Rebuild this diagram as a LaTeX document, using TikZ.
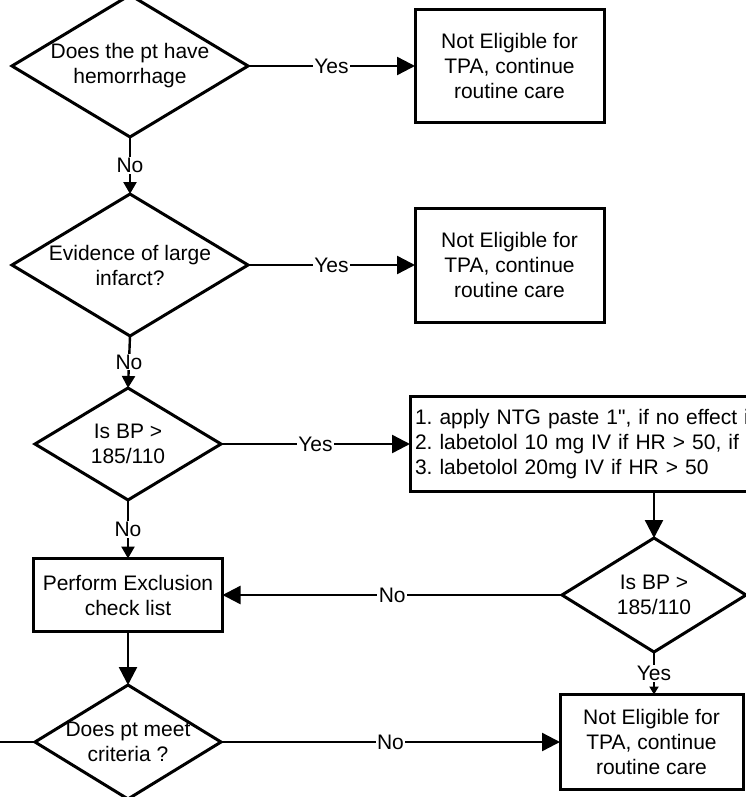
\documentclass[tikz,border=0pt]{standalone}
\usepackage{fontspec}
\setmainfont{Liberation Sans}
\usetikzlibrary{shapes.geometric,arrows.meta}
\newcommand\flowfont{\fontsize{21}{25}\selectfont}
\frenchspacing
\begin{document}
\begin{tikzpicture}[x=1pt,y=-1pt,
  shapebox/.style={draw, line width=3pt, rectangle, outer sep=0pt, inner sep=2pt, align=center, font=\flowfont},
  dec/.style={draw, line width=3pt, diamond, outer sep=0pt, inner sep=0pt},
  dtext/.style={font=\flowfont, align=center},
  conn/.style={line width=2.4pt},
  bigarr/.style={conn, -{Triangle[length=18pt,width=18pt]}},
  smallarr/.style={conn, -{Triangle[length=12pt,width=13pt]}},
  tinyarr/.style={conn, -{Triangle[length=8pt,width=9pt]}},
  lbl/.style={fill=white, inner xsep=1.5pt, inner ysep=1pt, font=\flowfont},
]
\useasboundingbox (0,0) rectangle (746,797);
\clip (0,0) rectangle (746,797);
\fill[white] (0,0) rectangle (746,797);

% decisions
\node[dec, minimum width=236pt, minimum height=142pt,
      label={[dtext]center:Does the pt have\\hemorrhage}] (d1) at (130,66) {};
\node[dec, minimum width=236pt, minimum height=142pt,
      label={[dtext]center:Evidence of large\\infarct?}] (d2) at (130,265) {};
\node[dec, minimum width=186pt, minimum height=112pt,
      label={[dtext]center:Is BP >\\185/110}] (d3) at (128,444) {};
\node[dec, minimum width=184pt, minimum height=114pt,
      label={[dtext]center:Is BP >\\185/110}] (d4) at (654,595) {};
\node[dec, minimum width=186pt, minimum height=114pt,
      label={[dtext]center:Does pt meet\\criteria ?}] (d5) at (128,742) {};

% boxes
\node[shapebox, minimum width=189pt, minimum height=113pt] (b1) at (509.5,66)
  {Not Eligible for\\TPA, continue\\routine care};
\node[shapebox, minimum width=189pt, minimum height=114pt] (b2) at (509.5,265)
  {Not Eligible for\\TPA, continue\\routine care};
\node[shapebox, anchor=west, text width=470pt, align=left, inner xsep=5pt,
      minimum height=95pt] (b3) at (410,444)
  {1. apply NTG paste 1\textquotedbl, if no effect in\\2. labetolol 10 mg IV if HR > 50, if no\\3. labetolol 20mg IV if HR > 50};
\node[shapebox, minimum width=189pt, minimum height=73pt] (pe) at (128,595)
  {Perform Exclusion\\check list};
\node[shapebox, minimum width=183pt, minimum height=95pt] (b4) at (651.5,742)
  {Not Eligible for\\TPA, continue\\routine care};

\coordinate (lout) at (-20,742);

% connectors
\draw[bigarr] (d1.east) -- node[lbl]{Yes} (b1.west);
\draw[smallarr] (d1.south) -- node[lbl]{No} (d2.north);
\draw[bigarr] (d2.east) -- node[lbl]{Yes} (b2.west);
\draw[smallarr] (d2.south) -- node[lbl]{No} (d3.north);
\draw[bigarr] (d3.east) -- node[lbl]{Yes} (b3.west);
\draw[smallarr] (d3.south) -- node[lbl]{No} (pe.north);
\draw[bigarr] (d4.north |- b3.south) -- (d4.north);
\draw[bigarr] (d4.west) -- node[lbl]{No} (pe.east);
\draw[tinyarr] (d4.south) -- node[lbl]{Yes} (d4.south |- b4.north);
\draw[bigarr] (pe.south) -- (d5.north);
\draw[bigarr] (d5.east) -- node[lbl]{No} (b4.west);
\draw[conn] (d5.west) -- (lout);
\end{tikzpicture}
\end{document}
